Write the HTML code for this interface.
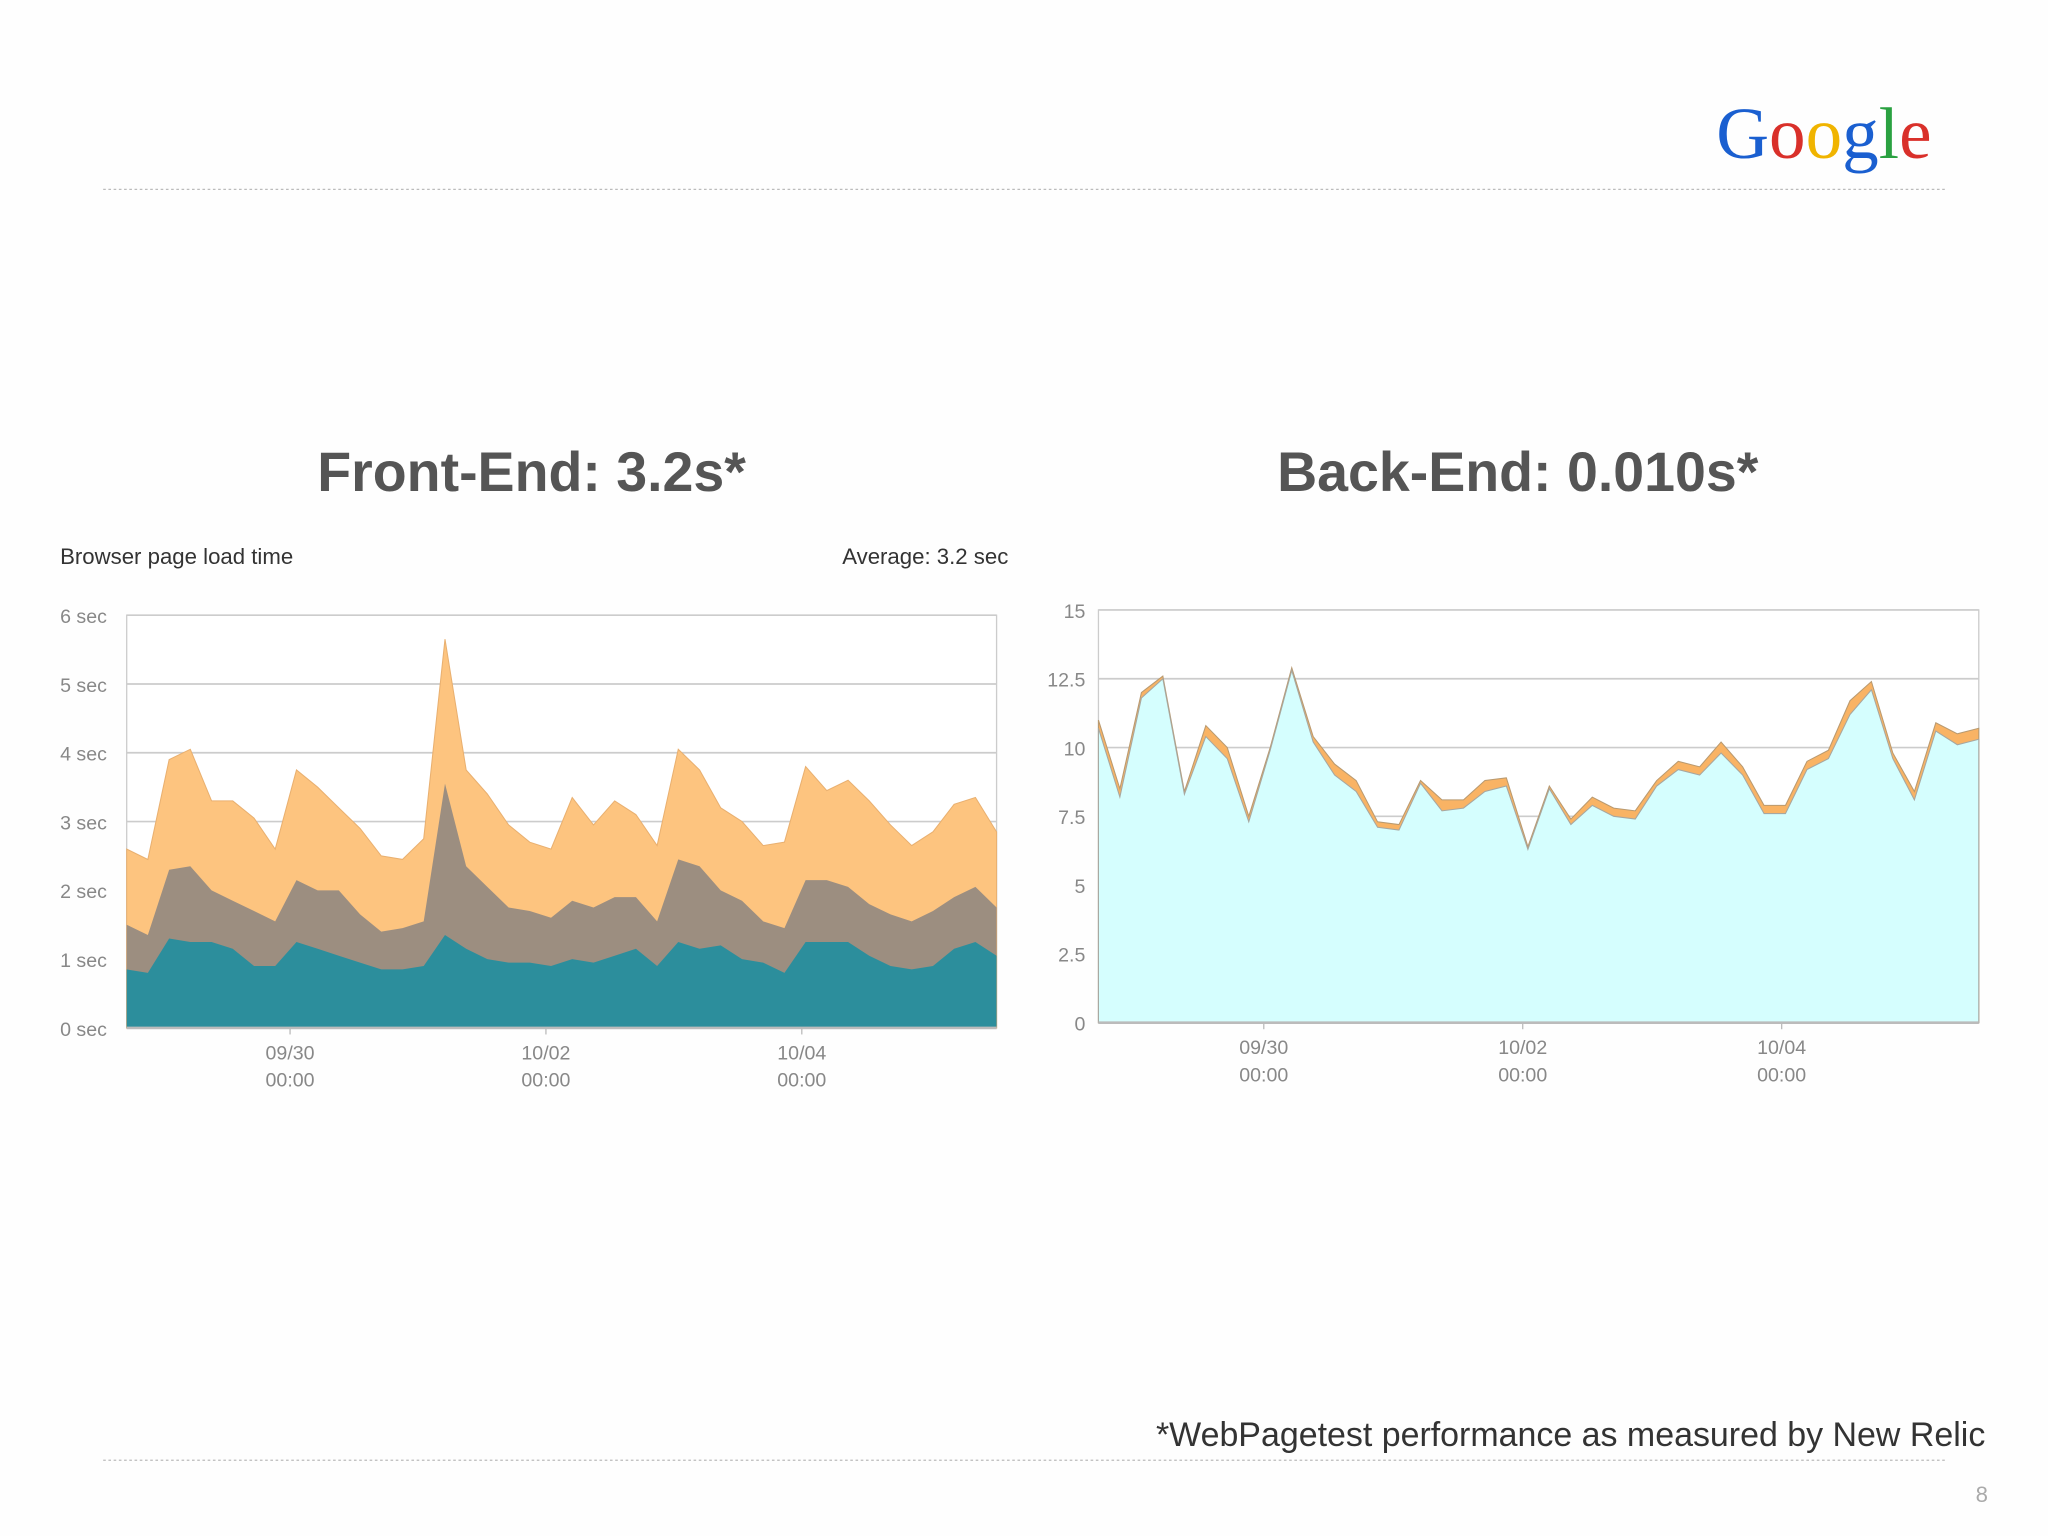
<!DOCTYPE html>
<html><head><meta charset="utf-8"><style>
html,body{margin:0;padding:0;background:#fff;}
svg{display:block;}
text{font-family:"Liberation Sans",sans-serif;}
text.logo{font-family:"Liberation Serif",serif;}
</style></head><body>
<svg id="s" width="2048" height="1536" viewBox="0 0 1568 1176" xmlns="http://www.w3.org/2000/svg">
<rect width="1568" height="1176" fill="#fefefe"/>
<g>
<text class="logo" x="1314" y="121" font-size="56"><tspan fill="#1a5fd0">G</tspan><tspan fill="#d9302a">o</tspan><tspan fill="#f0b400">o</tspan><tspan fill="#1a5fd0">g</tspan><tspan fill="#2aa141">l</tspan><tspan fill="#d9302a">e</tspan></text>
</g>
<line x1="79" y1="145" x2="1490" y2="145" stroke="#bbb" stroke-dasharray="2,2"/>
<text x="407" y="376" text-anchor="middle" font-size="42.5" font-weight="bold" fill="#555">Front-End: 3.2s*</text>
<text x="1162" y="376" text-anchor="middle" font-size="42.5" font-weight="bold" fill="#555">Back-End: 0.010s*</text>
<text x="46" y="432" font-size="17" fill="#333">Browser page load time</text>
<text x="772" y="432" font-size="17" fill="#333" text-anchor="end">Average: 3.2 sec</text>
<g id="left"></g>
<g id="right"></g>
<text x="1520" y="1107" text-anchor="end" font-size="26" fill="#333">*WebPagetest performance as measured by New Relic</text>
<line x1="79" y1="1118" x2="1490" y2="1118" stroke="#bbb" stroke-dasharray="2,2"/>
<text x="1522" y="1150" text-anchor="end" font-size="17" fill="#aaa">8</text>
</svg>
<script>
const leftTotal=[2.6,2.45,3.9,4.05,3.3,3.3,3.05,2.6,3.75,3.5,3.2,2.9,2.5,2.45,2.75,5.65,3.75,3.4,2.95,2.7,2.6,3.35,2.95,3.3,3.1,2.65,4.05,3.75,3.2,3.0,2.65,2.7,3.8,3.45,3.6,3.3,2.95,2.65,2.85,3.25,3.35,2.85];
const leftMid=[1.5,1.35,2.3,2.35,2.0,1.85,1.7,1.55,2.15,2.0,2.0,1.65,1.4,1.45,1.55,3.55,2.35,2.05,1.75,1.7,1.6,1.85,1.75,1.9,1.9,1.55,2.45,2.35,2.0,1.85,1.55,1.45,2.15,2.15,2.05,1.8,1.65,1.55,1.7,1.9,2.05,1.75];
const leftLow=[0.85,0.8,1.3,1.25,1.25,1.15,0.9,0.9,1.25,1.15,1.05,0.95,0.85,0.85,0.9,1.35,1.15,1.0,0.95,0.95,0.9,1.0,0.95,1.05,1.15,0.9,1.25,1.15,1.2,1.0,0.95,0.8,1.25,1.25,1.25,1.05,0.9,0.85,0.9,1.15,1.25,1.05];
const leftTicks=[0,1,2,3,4,5,6];
const leftTickLabels=["0 sec","1 sec","2 sec","3 sec","4 sec","5 sec","6 sec"];
const rightTotal=[11.0,8.5,12.0,12.6,8.4,10.8,10.0,7.5,10.0,12.9,10.4,9.4,8.8,7.3,7.2,8.8,8.1,8.1,8.8,8.9,6.4,8.6,7.4,8.2,7.8,7.7,8.8,9.5,9.3,10.2,9.3,7.9,7.9,9.5,9.9,11.7,12.4,9.8,8.4,10.9,10.5,10.7];
const rightBase=[10.7,8.2,11.8,12.5,8.3,10.4,9.6,7.3,9.9,12.8,10.2,9.0,8.4,7.1,7.0,8.7,7.7,7.8,8.4,8.6,6.3,8.5,7.2,7.9,7.5,7.4,8.6,9.2,9.0,9.8,9.0,7.6,7.6,9.2,9.6,11.2,12.1,9.6,8.1,10.6,10.1,10.3];
const rightTicks=[0,2.5,5,7.5,10,12.5,15];
const rightTickLabels=["0","2.5","5","7.5","10","12.5","15"];
const dateTickIdx=[7.7,19.76,31.82];
const dateTickLabels=["09/30","10/02","10/04"];
const NS="http://www.w3.org/2000/svg";
function mk(p,tag,attrs){const e=document.createElementNS(NS,tag);for(const k in attrs)e.setAttribute(k,attrs[k]);p.appendChild(e);return e;}
function chart(g,o){
  const xs=i=>o.x0+(o.x1-o.x0)*i/(o.n-1);
  const ys=v=>o.y0-(o.y0-o.y1)*v/o.max;
  const bg=mk(g,'rect',{x:o.x0,y:o.y1,width:o.x1-o.x0,height:o.y0-o.y1,fill:'#fff',stroke:'#ccc'});
  
  
  o.ticks.forEach((t,i)=>{
    const l=mk(g,'line',{x1:o.x0,x2:o.x1,y1:ys(t),y2:ys(t),stroke:'#ccc','stroke-width':1.3});
    
    
    const tx=mk(g,'text',{x:o.lx,y:ys(t)+6,'text-anchor':o.anchor,'font-size':15,fill:'#888'});
    tx.textContent=o.tickLabels[i];
    
    
  });
  o.layers.forEach(L=>{
    let d='M'+xs(0)+','+ys(0);
    L.vals.forEach((v,i)=>{d+=' L'+xs(i).toFixed(1)+','+ys(v).toFixed(1);});
    d+=' L'+xs(o.n-1)+','+ys(0)+'Z';
    const p=mk(g,'path',{d:d,fill:L.fill,stroke:L.stroke||'none','stroke-width':0.8});
    
    
  });
  mk(g,'line',{x1:o.x0,x2:o.x1,y1:o.y0,y2:o.y0,stroke:'#bbb','stroke-width':2});
  dateTickIdx.forEach((t,i)=>{
    const x=xs(t);
    mk(g,'line',{x1:x,x2:x,y1:o.y0,y2:o.y0+5,stroke:'#bbb'});
    const a=mk(g,'text',{x:x,y:o.y0+24,'text-anchor':'middle','font-size':15,fill:'#888'});
    a.textContent=dateTickLabels[i];
    
    
    const b=mk(g,'text',{x:x,y:o.y0+45,'text-anchor':'middle','font-size':15,fill:'#888'});
    b.textContent='00:00';
    
    
  });
}
chart(document.getElementById('left'),{x0:97,x1:763,y0:787,y1:471,max:6,n:leftTotal.length,ticks:leftTicks,tickLabels:leftTickLabels,lx:46,anchor:'start',
  layers:[{vals:leftTotal,fill:'#fdc47f',stroke:'#e9b070',name:'area-total'},{vals:leftMid,fill:'#9c8e80',name:'area-middle'},{vals:leftLow,fill:'#2c8e9c',name:'area-bottom'}]});
chart(document.getElementById('right'),{x0:841,x1:1515,y0:783,y1:467,max:15,n:rightTotal.length,ticks:rightTicks,tickLabels:rightTickLabels,lx:831,anchor:'end',
  layers:[{vals:rightTotal,fill:'#f9b364',stroke:'#b99a70',name:'area-total'},{vals:rightBase,fill:'#d5fefe',stroke:'#a7a7a0',name:'area-base'}]});
</script>
</body></html>
